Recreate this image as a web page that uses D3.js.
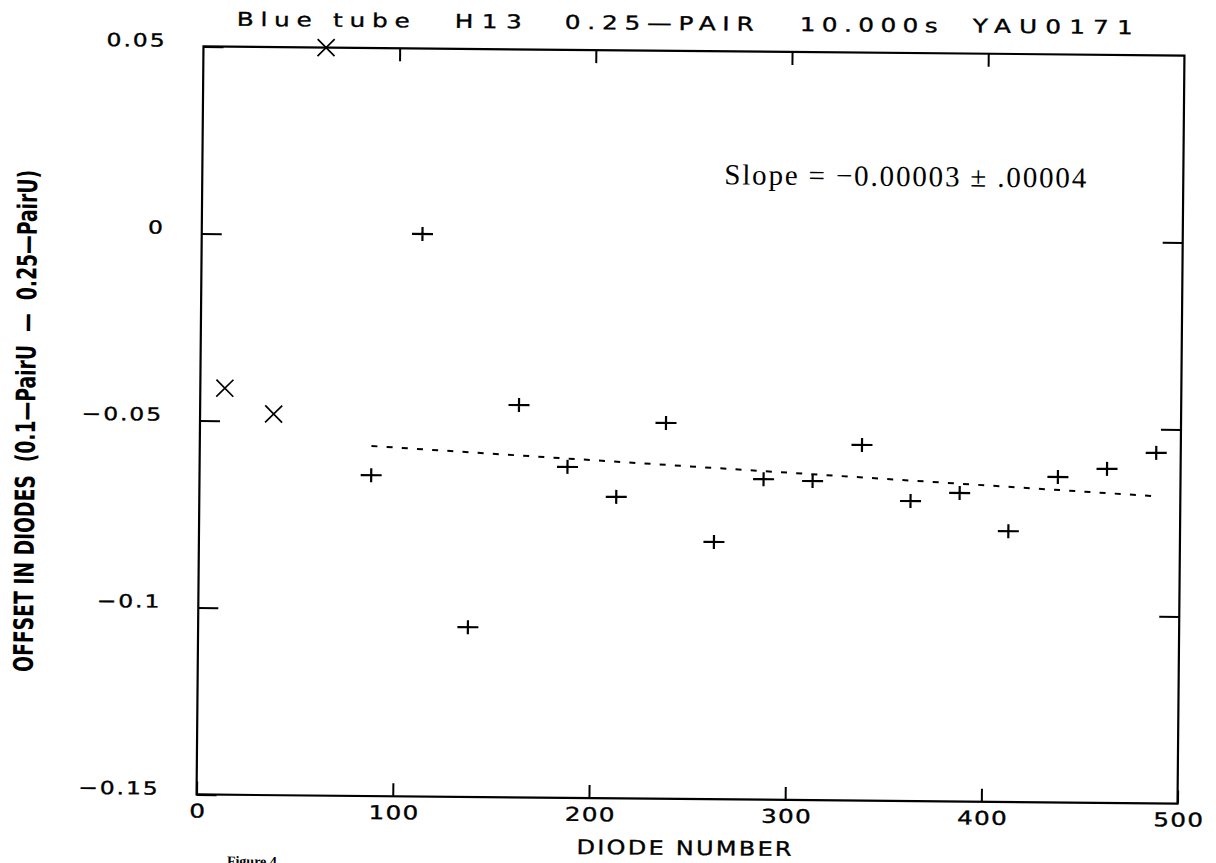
<!DOCTYPE html>
<html>
<head>
<meta charset="utf-8">
<script src="https://cdn.jsdelivr.net/npm/d3@7"></script>
<style>
body { margin: 0; background: #fff; }
.axis text { font-family: "DejaVu Sans", sans-serif; fill: #000; }
</style>
</head>
<body>
<div id="chart-area"></div>
<script>

// Values
// diodes left out of the fit (drawn as x)
let rejectedDiodes = [12.5, 37.5, 62.5];
let rejectedOffsets = [-0.0413, -0.0481, 0.0500];

// diodes used in the fit (drawn as +)
let fitDiodes = [87.5, 112.5, 137.5, 162.5, 187.5, 212.5, 237.5, 262.5, 287.5,
    312.5, 337.5, 362.5, 387.5, 412.5, 437.5, 462.5, 487.5];
let fitOffsets = [-0.0642, 0.0004, -0.1046, -0.0451, -0.0615, -0.0694, -0.0495, -0.0812, -0.0643,
    -0.0647, -0.0549, -0.0698, -0.0675, -0.0776, -0.0630, -0.0607, -0.0563];

// fitted line end points
let trendDiodes = [87.5, 487.5];
let trendOffsets = [-0.0564, -0.0679];

let xTicks = [0, 100, 200, 300, 400, 500];
let yTicks = [0.05, 0, -0.05, -0.1, -0.15];
let yTickLabels = ["0.05", "0", "\u22120.05", "\u22120.1", "\u22120.15"];

let titleParts = ["Blue tube", "H13", "0.25\u2014PAIR", "10.000s", "YAU0171"];
let slopeText = "Slope = \u22120.00003 \u00b1 .00004";
let xLabel = "DIODE NUMBER";
let yLabel = "OFFSET IN DIODES  (0.1\u2014PairU  \u2014  0.25\u2014PairU)";


// SVG drawing area
let margin = {top: 51, right: 35, bottom: 64, left: 200};

let width = 1216 - margin.left - margin.right,
    height = 863 - margin.top - margin.bottom;

// plotter lettering is wider than DejaVu, so stretch it
let stretch = 1.3;

let svg = d3.select("#chart-area").append("svg")
    .attr("width", 1216)
    .attr("height", 863);

svg.append("rect")
    .attr("width", 1216)
    .attr("height", 863)
    .attr("fill", "#fff");

// the scan is turned a little clockwise
let page = svg.append("g")
    .attr("transform", "rotate(0.53, 690, 425)");

let plot = page.append("g")
    .attr("transform", "translate(" + margin.left + "," + margin.top + ")");

// scales
let xScale = d3.scaleLinear()
    .domain([0, 500])
    .range([0, width]);

let yScale = d3.scaleLinear()
    .domain([-0.15, 0.05])
    .range([height, 0]);

// x-axis (bottom, with labels)
let xAxis = d3.axisBottom(xScale)
    .tickValues(xTicks)
    .tickSize(-13)
    .tickFormat(d3.format("d"));

let xAxisGroup = plot.append("g")
    .attr("class", "axis x-axis")
    .attr("transform", "translate(0," + height + ")")
    .call(xAxis);

// top ticks, no labels
let topAxis = d3.axisTop(xScale)
    .tickValues([100, 200, 300, 400])
    .tickSize(-13)
    .tickFormat("");

plot.append("g")
    .attr("class", "axis top-axis")
    .call(topAxis);

// y-axis (left, with labels)
let yAxis = d3.axisLeft(yScale)
    .tickValues(yTicks)
    .tickSize(-20)
    .tickFormat(d => yTickLabels[yTicks.indexOf(d)]);

let yAxisGroup = plot.append("g")
    .attr("class", "axis y-axis")
    .call(yAxis);

// right ticks
let rightAxis = d3.axisRight(yScale)
    .tickValues([0, -0.05, -0.1])
    .tickSize(-20)
    .tickFormat("");

plot.append("g")
    .attr("class", "axis right-axis")
    .attr("transform", "translate(" + width + ",0)")
    .call(rightAxis);

plot.selectAll(".axis .domain").remove();
plot.selectAll(".axis line")
    .attr("stroke", "#000")
    .attr("stroke-width", 2);

xAxisGroup.selectAll("text")
    .attr("x", 0)
    .attr("y", 0)
    .attr("dy", null)
    .attr("transform", "translate(1,23) scale(" + stretch + ",1)")
    .attr("font-size", 19)
    .attr("letter-spacing", 1)
    .attr("stroke", "#000")
    .attr("stroke-width", 0.35);

yAxisGroup.selectAll("text")
    .attr("x", 0)
    .attr("dy", null)
    .attr("transform", "translate(-37,0) scale(" + stretch + ",1)")
    .attr("font-size", 18)
    .attr("letter-spacing", 1.5)
    .attr("stroke", "#000")
    .attr("stroke-width", 0.35);

// frame
plot.append("rect")
    .attr("width", width)
    .attr("height", height)
    .attr("fill", "none")
    .attr("stroke", "#000")
    .attr("stroke-width", 2.2);

// fitted line
let line = d3.line()
    .x(d => xScale(d[0]))
    .y(d => yScale(d[1]));

plot.append("path")
    .datum(d3.zip(trendDiodes, trendOffsets))
    .attr("d", line)
    .attr("fill", "none")
    .attr("stroke", "#000")
    .attr("stroke-width", 2)
    .attr("stroke-dasharray", "6,9.2");

// + markers
plot.selectAll(".plus")
    .data(d3.zip(fitDiodes, fitOffsets))
    .enter().append("path")
    .attr("class", "plus")
    .attr("transform", d => "translate(" + xScale(d[0]) + "," + yScale(d[1]) + ")")
    .attr("d", "M-10.5,0H10.5M0,-7V7")
    .attr("stroke", "#000")
    .attr("stroke-width", 2.2);

// x markers
plot.selectAll(".cross")
    .data(d3.zip(rejectedDiodes, rejectedOffsets))
    .enter().append("path")
    .attr("class", "cross")
    .attr("transform", d => "translate(" + xScale(d[0]) + "," + yScale(d[1]) + ")")
    .attr("d", "M-8.5,-8.5L8.5,8.5M-8.5,8.5L8.5,-8.5")
    .attr("stroke", "#000")
    .attr("stroke-width", 1.7);

// title, spaced out like the plotter font
let titleX = [233, 451, 561, 796, 969],
    titleLen = [173, 67, 189, 138, 160];

page.selectAll(".title-part")
    .data(titleParts)
    .enter().append("text")
    .attr("class", "title-part")
    .attr("transform", (d, i) => "translate(" + titleX[i] + ",30) scale(" + stretch + ",1)")
    .attr("textLength", (d, i) => titleLen[i] / stretch)
    .attr("lengthAdjust", "spacing")
    .attr("font-family", "DejaVu Sans, sans-serif")
    .attr("font-size", 19)
    .attr("stroke", "#000")
    .attr("stroke-width", 0.35)
    .text(d => d);

// slope annotation
page.append("text")
    .attr("x", 722)
    .attr("y", 184)
    .attr("textLength", 362)
    .attr("lengthAdjust", "spacing")
    .attr("font-family", "Liberation Serif, serif")
    .attr("font-size", 29)
    .style("white-space", "pre")
    .text(slopeText);

// axis titles
page.append("text")
    .attr("transform", "translate(688,855) scale(1.2,1)")
    .attr("text-anchor", "middle")
    .attr("textLength", 215 / 1.2)
    .attr("lengthAdjust", "spacing")
    .attr("font-family", "DejaVu Sans, sans-serif")
    .attr("font-size", 20)
    .attr("stroke", "#000")
    .attr("stroke-width", 0.35)
    .text(xLabel);

page.append("text")
    .attr("transform", "translate(35,427) rotate(-90)")
    .attr("text-anchor", "middle")
    .attr("textLength", 502)
    .attr("lengthAdjust", "spacingAndGlyphs")
    .attr("font-family", "DejaVu Sans Condensed, DejaVu Sans, sans-serif")
    .attr("font-weight", "bold")
    .attr("font-size", 27)
    .style("white-space", "pre")
    .text(yLabel);

// caption, mostly cut off at the bottom edge of the scan
page.append("text")
    .attr("x", 231)
    .attr("y", 870)
    .attr("font-family", "Liberation Serif, serif")
    .attr("font-weight", "bold")
    .attr("font-size", 14)
    .text("Figure 4");

</script>
</body>
</html>
